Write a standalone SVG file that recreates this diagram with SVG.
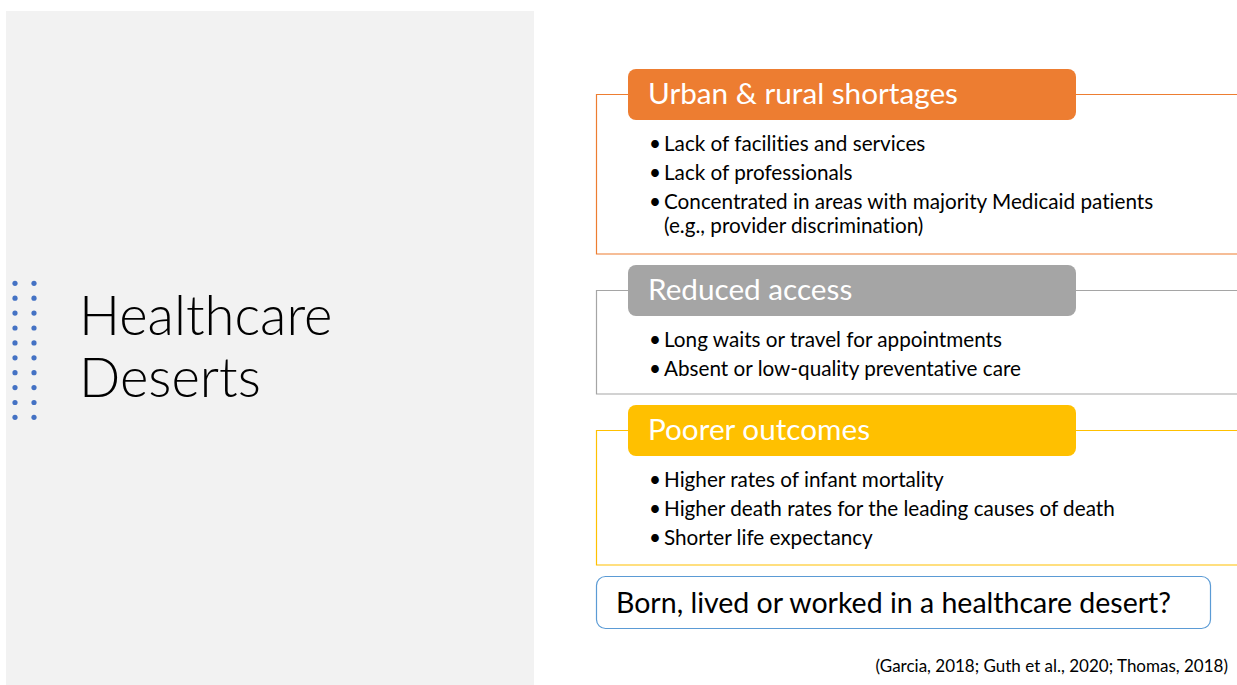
<svg xmlns="http://www.w3.org/2000/svg" width="1237" height="685" viewBox="0 0 1237 685">
<style>
  text { font-family: Lato, "Noto Sans", sans-serif; font-variant-ligatures: none; }
  .title { font-size: 54.4px; font-weight: 300; fill: #000; }
  .hdr { font-size: 29.7px; fill: #fff; }
  .bul { font-size: 20.7px; fill: #000; }
  .cite { font-size: 17px; fill: #000; }
  .q { font-size: 28.5px; fill: #000; }
  .dot { fill: #4472C4; }
  .frame { fill: none; stroke-width: 1.2; }
</style>
<rect x="6" y="11" width="528" height="674" fill="#F2F2F2"/>
<g id="dots">
  <circle class="dot" cx="15" cy="283.3" r="2.6"/><circle class="dot" cx="34" cy="283.3" r="2.6"/>
  <circle class="dot" cx="15" cy="298.2" r="2.6"/><circle class="dot" cx="34" cy="298.2" r="2.6"/>
  <circle class="dot" cx="15" cy="313.1" r="2.6"/><circle class="dot" cx="34" cy="313.1" r="2.6"/>
  <circle class="dot" cx="15" cy="328" r="2.6"/><circle class="dot" cx="34" cy="328" r="2.6"/>
  <circle class="dot" cx="15" cy="342.9" r="2.6"/><circle class="dot" cx="34" cy="342.9" r="2.6"/>
  <circle class="dot" cx="15" cy="357.8" r="2.6"/><circle class="dot" cx="34" cy="357.8" r="2.6"/>
  <circle class="dot" cx="15" cy="372.7" r="2.6"/><circle class="dot" cx="34" cy="372.7" r="2.6"/>
  <circle class="dot" cx="15" cy="387.6" r="2.6"/><circle class="dot" cx="34" cy="387.6" r="2.6"/>
  <circle class="dot" cx="15" cy="402.5" r="2.6"/><circle class="dot" cx="34" cy="402.5" r="2.6"/>
  <circle class="dot" cx="15" cy="417.3" r="2.6"/><circle class="dot" cx="34" cy="417.3" r="2.6"/>
</g>
<g id="title">
  <text class="title" x="79" y="335">Healthcare</text>
  <text class="title" x="79" y="397">Deserts</text>
</g>
<g id="shortages">
  <path class="frame" stroke="#ED7D31" d="M628,94.5 H596.5 V254 H1237 M1076,94.5 H1237"/>
  <rect x="628" y="69" width="448" height="51" rx="8" fill="#ED7D31"/>
  <text class="hdr" x="648" y="104">Urban &amp; rural shortages</text>
  <text class="bul" x="649" y="150.5">•</text><text class="bul" x="664" y="150.5">Lack of facilities and services</text>
  <text class="bul" x="649" y="179.5">•</text><text class="bul" x="664" y="179.5">Lack of professionals</text>
  <text class="bul" x="649" y="208.5">•</text><text class="bul" x="664" y="208.5">Concentrated in areas with majority Medicaid patients</text>
  <text class="bul" x="664" y="233">(e.g., provider discrimination)</text>
</g>
<g id="access">
  <path class="frame" stroke="#A5A5A5" d="M628,290.5 H596.5 V394 H1237 M1076,290.5 H1237"/>
  <rect x="628" y="265" width="448" height="51" rx="8" fill="#A5A5A5"/>
  <text class="hdr" x="648" y="300">Reduced access</text>
  <text class="bul" x="649" y="347">•</text><text class="bul" x="664" y="347">Long waits or travel for appointments</text>
  <text class="bul" x="649" y="376">•</text><text class="bul" x="664" y="376">Absent or low-quality preventative care</text>
</g>
<g id="outcomes">
  <path class="frame" stroke="#FFC000" d="M628,430.5 H596.5 V565 H1237 M1076,430.5 H1237"/>
  <rect x="628" y="405" width="448" height="51" rx="8" fill="#FFC000"/>
  <text class="hdr" x="648" y="440">Poorer outcomes</text>
  <text class="bul" x="649" y="487">•</text><text class="bul" x="664" y="487">Higher rates of infant mortality</text>
  <text class="bul" x="649" y="516">•</text><text class="bul" x="664" y="516">Higher death rates for the leading causes of death</text>
  <text class="bul" x="649" y="545">•</text><text class="bul" x="664" y="545">Shorter life expectancy</text>
</g>
<g id="question">
  <rect x="596.5" y="576.5" width="614" height="52" rx="9" fill="#fff" stroke="#5B9BD5" stroke-width="1.2"/>
  <text class="q" x="616" y="613">Born, lived or worked in a healthcare desert?</text>
</g>
<g id="citation">
  <text class="cite" x="1228" y="672" text-anchor="end">(Garcia, 2018; Guth et al., 2020; Thomas, 2018)</text>
</g>
<g id="connectors"/>
</svg>
